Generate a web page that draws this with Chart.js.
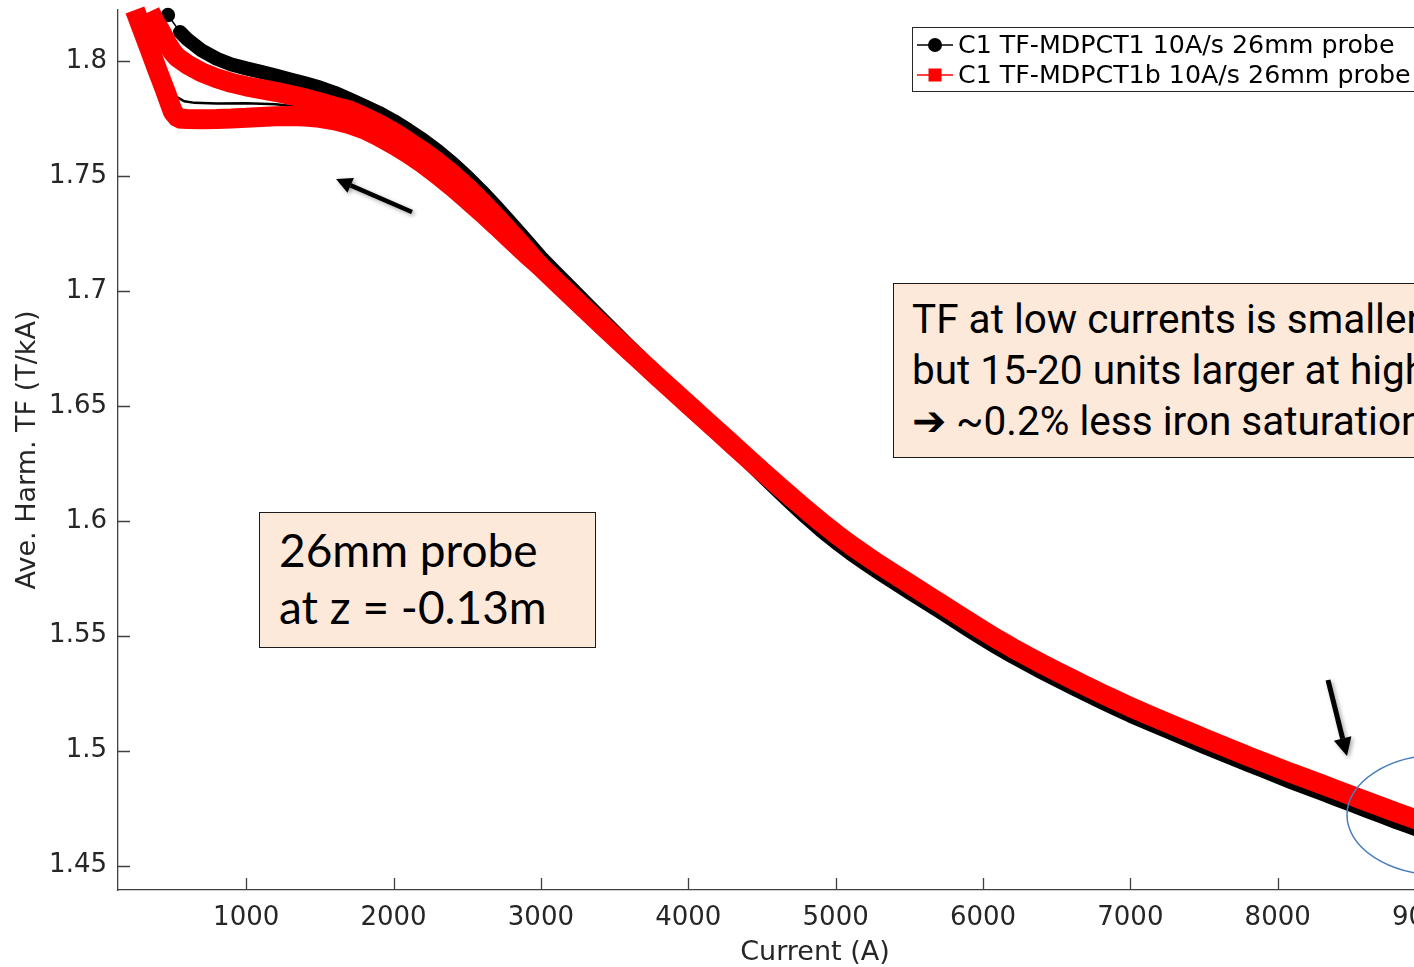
<!DOCTYPE html>
<html>
<head>
<meta charset="utf-8">
<script src="https://cdn.jsdelivr.net/npm/chart.js@4.4.1/dist/chart.umd.min.js"></script>
<style>
  html, body { margin: 0; padding: 0; overflow: hidden; background: #fff; width: 1414px; height: 967px; }
  #wrap { position: relative; width: 1540px; height: 967px; }
  .note { position: absolute; background: #fde9d9; border: 1.5px solid #1a1a1a; box-sizing: border-box; color: #000; white-space: nowrap; }
  #probe { left: 259px; top: 512px; width: 337px; height: 136px; font: 46px Lato; line-height: 57px; padding: 8px 0 0 19px; }
  #tfnote { left: 893px; top: 283px; width: 720px; height: 175px; font: 40.5px Roboto; line-height: 51px; padding: 10px 0 0 18px; }
</style>
</head>
<body>
<div id="wrap">
  <canvas id="c"></canvas>
  <div class="note" id="probe">26mm probe<br>at z = -0.13m</div>
  <div class="note" id="tfnote">TF at low currents is smaller<br>but 15-20 units larger at high<br>➔ ~0.2% less iron saturation</div>
</div>
<script>
// axis ticks
const xTicks = [1000, 2000, 3000, 4000, 5000, 6000, 7000, 8000, 9000];
const yTicks = [1.45, 1.5, 1.55, 1.6, 1.65, 1.7, 1.75, 1.8];
const yTickLabels = ['1.45', '1.5', '1.55', '1.6', '1.65', '1.7', '1.75', '1.8'];

// common part of both curves (A), 3000..9300
const mainI = [3000, 3100, 3200, 3300, 3400, 3500, 3600, 3700, 3800, 3900,
  4000, 4100, 4200, 4300, 4400, 4500, 4600, 4700, 4800, 4900,
  5000, 5100, 5200, 5300, 5400, 5500, 5600, 5700, 5800, 5900,
  6000, 6100, 6200, 6300, 6400, 6500, 6600, 6700, 6800, 6900,
  7000, 7100, 7200, 7300, 7400, 7500, 7600, 7700, 7800, 7900,
  8000, 8100, 8200, 8300, 8400, 8500, 8600, 8700, 8800, 8900,
  9000, 9100, 9200, 9300];
const redMainTF = [1.7104, 1.7042, 1.6981, 1.6920, 1.6860, 1.6800, 1.6740, 1.6681, 1.6622, 1.6564,
  1.6506, 1.6448, 1.6390, 1.6332, 1.6274, 1.6216, 1.6159, 1.6103, 1.6048, 1.5995,
  1.5944, 1.5896, 1.5851, 1.5808, 1.5767, 1.5726, 1.5685, 1.5645, 1.5604, 1.5563,
  1.5523, 1.5484, 1.5447, 1.5412, 1.5378, 1.5345, 1.5313, 1.5281, 1.5250, 1.5220,
  1.5190, 1.5162, 1.5135, 1.5108, 1.5081, 1.5054, 1.5028, 1.5002, 1.4976, 1.4951,
  1.4926, 1.4901, 1.4877, 1.4853, 1.4829, 1.4805, 1.4781, 1.4757, 1.4733, 1.4710,
  1.4687, 1.4664, 1.4641, 1.4618];
const blackMainTF = [1.7147, 1.7082, 1.7017, 1.6952, 1.6888, 1.6824, 1.6760, 1.6697, 1.6634, 1.6572,
  1.6510, 1.6448, 1.6385, 1.6322, 1.6259, 1.6196, 1.6134, 1.6073, 1.6014, 1.5958,
  1.5906, 1.5858, 1.5813, 1.5770, 1.5729, 1.5688, 1.5647, 1.5607, 1.5566, 1.5525,
  1.5485, 1.5446, 1.5409, 1.5374, 1.5340, 1.5307, 1.5275, 1.5243, 1.5212, 1.5182,
  1.5152, 1.5124, 1.5097, 1.5070, 1.5043, 1.5016, 1.4990, 1.4964, 1.4938, 1.4913,
  1.4887, 1.4861, 1.4837, 1.4813, 1.4788, 1.4764, 1.4739, 1.4715, 1.4690, 1.4667,
  1.4643, 1.4620, 1.4597, 1.4574];

// low current branches
const redLowI = [245, 296, 347, 397, 449, 503, 540, 600, 700, 800, 900, 1000, 1100, 1200, 1300, 1400,
  1500, 1600, 1700, 1800, 1900, 2000, 2100, 2200, 2300, 2400, 2500, 2600, 2700, 2800, 2900];
const redLowTF = [1.8222, 1.8135, 1.8048, 1.7961, 1.7874, 1.7778, 1.7750, 1.7748, 1.7747, 1.7748, 1.7750,
  1.7753, 1.7757, 1.7760, 1.7761, 1.7759, 1.7753, 1.7742, 1.7726, 1.7703, 1.7672, 1.7636, 1.7597,
  1.7553, 1.7504, 1.7452, 1.7397, 1.7340, 1.7281, 1.7221, 1.7161];
const redHighI = [347, 380, 415, 460, 500, 530, 600, 700, 800, 900, 1000, 1100, 1200, 1300, 1400,
  1500, 1600, 1700, 1800, 1900, 2000, 2100, 2200, 2300, 2400, 2500, 2600, 2700, 2800, 2900, 3000];
const redHighTF = [1.8215, 1.8170, 1.8135, 1.8080, 1.8040, 1.8017, 1.7985, 1.7950, 1.7925, 1.7905,
  1.7890, 1.7878, 1.7866, 1.7852, 1.7838, 1.7820, 1.7802, 1.7785, 1.7757, 1.7726, 1.7690, 1.7649,
  1.7606, 1.7559, 1.7507, 1.7449, 1.7386, 1.7319, 1.7249, 1.7177, 1.7104];
const blackHighI = [469, 551, 600, 700, 800, 900, 1000, 1100, 1200, 1300, 1400, 1500, 1600, 1700,
  1800, 1900, 2000, 2100, 2200, 2300, 2400, 2500, 2600, 2700, 2800, 2900];
const blackHighTF = [1.8200, 1.8126, 1.8095, 1.8045, 1.8010, 1.7985, 1.7968, 1.7953, 1.7937, 1.7920,
  1.7903, 1.7885, 1.7862, 1.7834, 1.7805, 1.7775, 1.7740, 1.7700, 1.7657, 1.7609, 1.7556, 1.7497,
  1.7433, 1.7365, 1.7294, 1.7221];
const blackLowI = [279, 300, 330, 368, 410, 449, 490, 530, 580, 650, 800, 1000, 1200, 1400];
const blackLowTF = [1.8222, 1.8180, 1.8120, 1.8048, 1.7980, 1.7917, 1.7870, 1.7843, 1.7825, 1.7818,
  1.7815, 1.7816, 1.7812, 1.7798];

const seriesNames = ['C1 TF-MDPCT1 10A/s 26mm probe', 'C1 TF-MDPCT1b 10A/s 26mm probe'];

const pairs = (xs, ys) => xs.map((v, i) => ({ x: v, y: ys[i] }));
const RED = '#ff0000';
const clipBox = { left: 2, top: 6, right: 0, bottom: 0 };

const axisFont = { family: 'DejaVu Sans', size: 26 };
const labelFont = { family: 'DejaVu Sans', size: 27 };

function arrow(ctx, x1, y1, x2, y2, w, head) {
    const a = Math.atan2(y2 - y1, x2 - x1);
    const hx = x2 - head * Math.cos(a), hy = y2 - head * Math.sin(a);
    const hw = head * 0.5;
    ctx.lineWidth = w;
    ctx.beginPath();
    ctx.moveTo(x1, y1);
    ctx.lineTo(hx, hy);
    ctx.stroke();
    ctx.beginPath();
    ctx.moveTo(x2, y2);
    ctx.lineTo(hx + hw * Math.sin(a), hy - hw * Math.cos(a));
    ctx.lineTo(hx - hw * Math.sin(a), hy + hw * Math.cos(a));
    ctx.closePath();
    ctx.fill();
}

const extras = {
    id: 'extras',
    beforeDatasetsDraw(chart) {
        // matlab style ticks, pointing inwards
        const { ctx, chartArea: a, scales: { x, y } } = chart;
        ctx.save();
        ctx.strokeStyle = '#404040';
        ctx.lineWidth = 1.3;
        ctx.beginPath();
        xTicks.forEach(v => {
            const px = Math.round(x.getPixelForValue(v)) + 0.5;
            ctx.moveTo(px, a.bottom);
            ctx.lineTo(px, a.bottom - 12);
        });
        yTicks.forEach(v => {
            const py = Math.round(y.getPixelForValue(v)) + 0.5;
            ctx.moveTo(a.left, py);
            ctx.lineTo(a.left + 12, py);
        });
        ctx.stroke();
        ctx.restore();
    },
    afterDatasetsDraw(chart) {
        // legend box
        const ctx = chart.ctx;
        ctx.save();
        ctx.fillStyle = '#fff';
        ctx.fillRect(912.5, 27.5, 600, 64);
        ctx.strokeStyle = '#262626';
        ctx.lineWidth = 1;
        ctx.strokeRect(912.5, 27.5, 600, 64);
        const rows = [45, 75];
        const cols = ['#000', RED];
        rows.forEach((ry, i) => {
            ctx.strokeStyle = cols[i];
            ctx.fillStyle = cols[i];
            ctx.lineWidth = 1.5;
            ctx.beginPath();
            ctx.moveTo(917, ry);
            ctx.lineTo(953, ry);
            ctx.stroke();
            if (i === 0) {
                ctx.beginPath();
                ctx.arc(935, ry, 7, 0, Math.PI * 2);
                ctx.fill();
            } else {
                ctx.fillRect(928.5, ry - 6.5, 13, 13);
            }
            ctx.fillStyle = '#000';
            ctx.font = '25.3px "DejaVu Sans"';
            ctx.textBaseline = 'middle';
            ctx.fillText(seriesNames[i], 958, ry + 1);
        });
        ctx.restore();
    },
    afterDraw(chart) {
        const ctx = chart.ctx;
        ctx.save();
        ctx.shadowColor = 'rgba(0,0,0,0.35)';
        ctx.shadowBlur = 4;
        ctx.shadowOffsetX = 2;
        ctx.shadowOffsetY = 2;
        ctx.strokeStyle = '#000';
        ctx.fillStyle = '#000';
        arrow(ctx, 412, 212, 336, 179, 4.5, 16);
        arrow(ctx, 1328, 680, 1347, 756, 5, 18);
        ctx.restore();

        ctx.save();
        ctx.strokeStyle = '#4a7ebb';
        ctx.lineWidth = 1.5;
        ctx.beginPath();
        ctx.ellipse(1440, 815, 93, 60, 0, 0, Math.PI * 2);
        ctx.stroke();
        ctx.restore();
    }
};

new Chart(document.getElementById('c'), {
    type: 'line',
    data: {
        datasets: [
            {
                label: seriesNames[1],
                data: pairs(redHighI, redHighTF),
                borderColor: RED, backgroundColor: RED,
                borderWidth: 20, borderJoinStyle: 'bevel',
                pointRadius: 0,
                clip: clipBox
            },
            {
                label: seriesNames[1],
                data: pairs(redLowI.concat(mainI), redLowTF.concat(redMainTF)),
                borderColor: RED, backgroundColor: RED,
                borderWidth: 20, borderJoinStyle: 'bevel',
                pointRadius: 0,
                clip: clipBox
            },
            {
                label: seriesNames[0],
                data: pairs(blackHighI.concat(mainI), blackHighTF.concat(blackMainTF)),
                borderColor: '#000', backgroundColor: '#000',
                borderWidth: 14, borderJoinStyle: 'round', borderCapStyle: 'round',
                segment: { borderWidth: c => c.p0DataIndex === 0 ? 1.5 : 14 },
                pointStyle: 'circle', pointBorderWidth: 0,
                pointRadius: c => c.dataIndex === 0 ? 7.2 : 0,
                clip: clipBox
            },
            {
                label: seriesNames[0],
                data: pairs(blackLowI, blackLowTF),
                borderColor: '#000', borderWidth: 2.5,
                pointRadius: 0,
                clip: clipBox
            }
        ]
    },
    options: {
        responsive: true,
        maintainAspectRatio: false,
        animation: false,
        events: [],
        layout: { padding: { left: 0, top: 10, right: 28, bottom: 0 } },
        plugins: {
            legend: { display: false },
            tooltip: { enabled: false }
        },
        scales: {
            x: {
                type: 'linear',
                min: 130, max: 9590,
                afterFit: s => { s.height = 77; s.paddingLeft = 0; s.paddingRight = 0; },
                afterBuildTicks: s => { s.ticks = xTicks.map(v => ({ value: v })); },
                grid: { display: false, drawTicks: false },
                border: { display: true, color: '#404040', width: 1.3 },
                ticks: {
                    padding: 13, color: '#262626', font: axisFont,
                    autoSkip: false, maxRotation: 0,
                    callback: v => String(v)
                },
                title: {
                    display: true, text: 'Current (A)', color: '#262626', font: labelFont,
                    padding: { top: 0, bottom: -2 }
                }
            },
            y: {
                type: 'linear',
                min: 1.4394, max: 1.8222,
                afterFit: s => { s.width = 118; s.paddingTop = 0; s.paddingBottom = 0; },
                afterBuildTicks: s => { s.ticks = yTicks.map(v => ({ value: v })); },
                grid: { display: false, drawTicks: false },
                border: { display: true, color: '#404040', width: 1.3 },
                ticks: {
                    padding: 11, color: '#262626', font: axisFont,
                    autoSkip: false,
                    callback: (v, i) => yTickLabels[i]
                },
                title: {
                    display: true, text: 'Ave. Harm. TF (T/kA)', color: '#262626', font: labelFont,
                    padding: { top: 12, bottom: 0 }
                }
            }
        }
    },
    plugins: [extras]
});
</script>
</body>
</html>
